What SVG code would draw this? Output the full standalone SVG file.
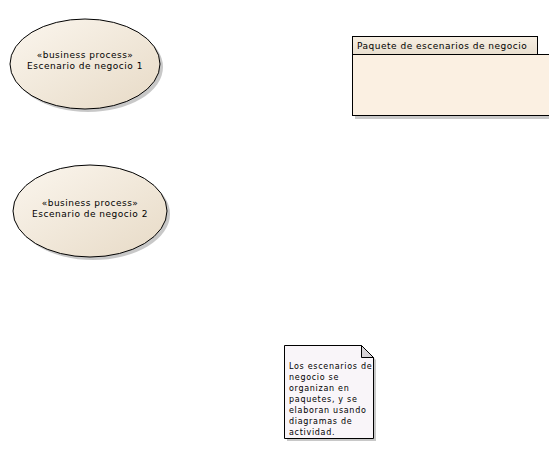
<svg xmlns="http://www.w3.org/2000/svg" width="549" height="453" viewBox="0 0 549 453">
<style>
.t{font-family:"DejaVu Sans",sans-serif;font-size:9px;letter-spacing:0.5px;fill:#000}
.n{font-family:"DejaVu Sans",sans-serif;font-size:8px;letter-spacing:0.7px;fill:#000}
.sh{fill:#9a9a9a;opacity:0.55}
.ol{stroke:#000;stroke-width:1}
</style>
<defs>
<linearGradient id="eg" x1="0" y1="0" x2="1" y2="1">
<stop offset="0" stop-color="#fbf6ee"/>
<stop offset="1" stop-color="#e7dac6"/>
</linearGradient>
<linearGradient id="tg" x1="0" y1="0" x2="0" y2="1">
<stop offset="0" stop-color="#f7efe3"/>
<stop offset="1" stop-color="#e9dfcf"/>
</linearGradient>
</defs>
<g id="bp1">
<ellipse class="sh" cx="88" cy="67" rx="75" ry="45"/>
<ellipse cx="85" cy="64" rx="75" ry="45" fill="url(#eg)" class="ol"/>
<text class="t" x="85" y="58" text-anchor="middle">«business process»</text>
<text class="t" x="85" y="69" text-anchor="middle">Escenario de negocio 1</text>
</g>
<g id="bp2">
<ellipse class="sh" cx="93" cy="214" rx="77" ry="46"/>
<ellipse cx="90" cy="211" rx="77" ry="46" fill="url(#eg)" class="ol"/>
<text class="t" x="90" y="206" text-anchor="middle">«business process»</text>
<text class="t" x="90" y="217" text-anchor="middle">Escenario de negocio 2</text>
</g>
<g id="pkg">
<rect class="sh" x="355" y="57" width="200" height="62"/>
<rect x="352.5" y="36.5" width="185" height="18" fill="url(#tg)" class="ol"/>
<rect x="352.5" y="54.5" width="200" height="61" fill="#fbf0e2" class="ol"/>
<text class="t" x="357" y="49">Paquete de escenarios de negocio</text>
</g>
<g id="note">
<polygon class="sh" points="287,348 364,348 376,360 376,441 287,441"/>
<polygon points="284.5,345.5 361.5,345.5 373.5,357.5 373.5,438.5 284.5,438.5" fill="#f9f5f9" class="ol"/>
<polygon points="361.5,345.5 361.5,357.5 373.5,357.5" fill="#d8d4d8" class="ol"/>
<text class="n" x="289" y="369">Los escenarios de</text>
<text class="n" x="289" y="380">negocio se</text>
<text class="n" x="289" y="391">organizan en</text>
<text class="n" x="289" y="402">paquetes, y se</text>
<text class="n" x="289" y="413">elaboran usando</text>
<text class="n" x="289" y="424">diagramas de</text>
<text class="n" x="289" y="435">actividad.</text>
</g>
<g id="connectors"/>
</svg>
